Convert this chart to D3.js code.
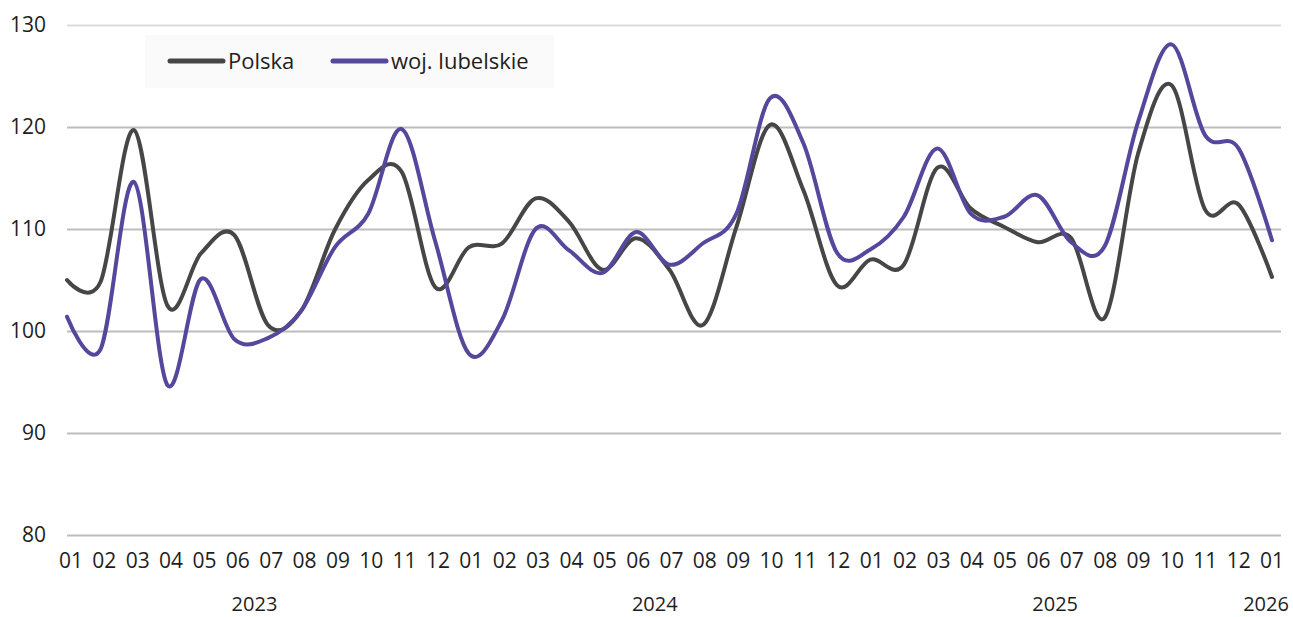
<!DOCTYPE html>
<html>
<head>
<meta charset="utf-8">
<script src="https://cdn.jsdelivr.net/npm/d3@7"></script>
<style>
  body { margin: 0; background: #fff; }
  text { font-family: "Open Sans", "Noto Sans", sans-serif; fill: #1e1e1e; }
</style>
</head>
<body>
<svg id="chart" width="1293" height="617"></svg>
<script>
// months 2023-01 .. 2026-01
const months = [
  "2023-01","2023-02","2023-03","2023-04","2023-05","2023-06","2023-07","2023-08","2023-09","2023-10","2023-11","2023-12",
  "2024-01","2024-02","2024-03","2024-04","2024-05","2024-06","2024-07","2024-08","2024-09","2024-10","2024-11","2024-12",
  "2025-01","2025-02","2025-03","2025-04","2025-05","2025-06","2025-07","2025-08","2025-09","2025-10","2025-11","2025-12",
  "2026-01"
];
const years = ["2023", "2024", "2025", "2026"];

const polska = [
  105.0, 104.8, 119.7, 102.5, 107.6, 109.4, 100.6, 102.0, 109.9, 114.8, 115.6, 104.3,
  108.2, 108.6, 113.0, 110.7, 106.0, 109.1, 106.0, 100.6, 110.2, 120.2, 113.8, 104.5,
  107.0, 106.5, 116.0, 112.0, 110.2, 108.7, 109.1, 101.3, 117.4, 124.1, 111.9, 112.4,
  105.3
];
const lubelskie = [
  101.4, 98.2, 114.6, 94.7, 105.1, 99.2, 99.3, 102.0, 108.2, 111.5, 119.8, 108.8,
  97.8, 101.1, 110.0, 107.9, 105.7, 109.7, 106.5, 108.6, 111.5, 122.8, 118.4, 107.7,
  108.0, 111.2, 117.9, 111.5, 111.2, 113.3, 108.7, 108.3, 120.5, 128.1, 119.2, 117.9,
  108.9
];
const yTicks = [80, 90, 100, 110, 120, 130];

const seriesNames = ["Polska", "woj. lubelskie"];
const seriesColors = ["#464646", "#56479c"];

var svg = d3.select("#chart");

/* Scales */
var x = d3.scalePoint().domain(months).range([67, 1272]);
// labels sit a touch right of the points at the left end
var xLab = d3.scalePoint().domain(months).range([71, 1272]);
var y = d3.scaleLinear().domain([80, 130]).range([535, 25]);

/* Gridlines */
svg.append("g")
  .attr("class", "grid")
  .call(d3.axisLeft(y).tickValues(yTicks).tickSize(-(1281 - 67)).tickFormat(""))
  .attr("transform", "translate(67,0)")
  .call(g => g.select(".domain").remove())
  .selectAll(".tick line")
  .attr("stroke", d => d === 130 ? "#dcdcdc" : "#bdbdbd")
  .attr("stroke-width", 2);

/* Y labels */
svg.append("g")
  .selectAll("text")
  .data(yTicks).enter()
  .append("text")
  .attr("x", 46)
  .attr("y", d => y(d))
  .attr("dy", "0.35em")
  .attr("text-anchor", "end")
  .style("font-size", "21px")
  .text(d => d);

/* Month labels */
svg.append("g")
  .selectAll("text")
  .data(months).enter()
  .append("text")
  .attr("x", d => xLab(d))
  .attr("y", 561)
  .attr("dy", "0.35em")
  .attr("text-anchor", "middle")
  .style("font-size", "21px")
  .text(d => d.slice(5));

/* Year labels, centred under their months */
svg.append("g")
  .selectAll("text")
  .data(years).enter()
  .append("text")
  .attr("x", function(yr) {
    var ms = months.filter(m => m.startsWith(yr));
    var cx = (xLab(ms[0]) + xLab(ms[ms.length - 1])) / 2;
    return Math.min(cx, 1266);
  })
  .attr("y", 604)
  .attr("dy", "0.35em")
  .attr("text-anchor", "middle")
  .style("font-size", "20px")
  .text(d => d);

/* Lines */
var line = d3.line()
  .x((d, i) => x(months[i]))
  .y(d => y(d))
  .curve(d3.curveCardinal.tension(0));

svg.append("g")
  .selectAll("path")
  .data([polska, lubelskie]).enter()
  .append("path")
  .attr("d", d => line(d))
  .attr("fill", "none")
  .attr("stroke", (d, i) => seriesColors[i])
  .attr("stroke-width", 4)
  .attr("stroke-linejoin", "round")
  .attr("stroke-linecap", "round");

/* Legend */
var legend = svg.append("g").attr("class", "legend");
legend.append("rect")
  .attr("x", 145).attr("y", 35)
  .attr("width", 409).attr("height", 53)
  .attr("fill", "#fafafa");

var legendX = [170, 333];
var items = legend.selectAll(".item")
  .data(seriesNames).enter()
  .append("g")
  .attr("class", "item")
  .attr("transform", (d, i) => `translate(${legendX[i]}, 61)`);
items.append("line")
  .attr("x1", 0).attr("x2", 53)
  .attr("stroke", (d, i) => seriesColors[i])
  .attr("stroke-width", 5)
  .attr("stroke-linecap", "round");
items.append("text")
  .attr("x", 58)
  .attr("dy", "0.35em")
  .style("font-size", "22px")
  .text(d => d);
</script>
</body>
</html>
